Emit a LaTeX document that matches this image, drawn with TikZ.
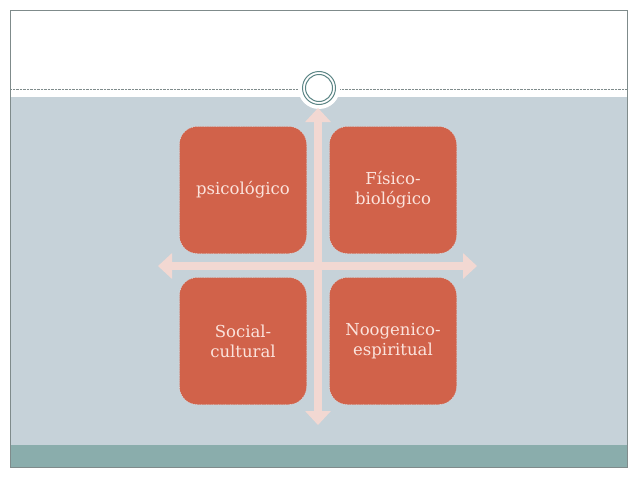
\documentclass[tikz,border=0pt]{standalone}
\usepackage{fontspec}
\setmainfont{DejaVu Serif}
\usetikzlibrary{arrows.meta}
\definecolor{boxred}{HTML}{D1624A}
\definecolor{boxtext}{HTML}{FBE3DC}
\definecolor{arrowpink}{HTML}{F2D8D2}
\definecolor{bandblue}{HTML}{C6D2D9}
\definecolor{bandteal}{HTML}{8AADAC}
\definecolor{framegray}{HTML}{7F8B8B}
\definecolor{ringteal}{HTML}{5B8585}
\begin{document}
\begin{tikzpicture}
            [x=1pt,y=-1pt,
             box/.style ={draw=white,dotted,fill=boxred,rounded corners=18pt,minimum width=127pt,minimum height=127pt,
                          text=boxtext,align=center,font=\fontsize{16.5}{20}\selectfont},
             twoway/.style ={arrowpink,line width=8pt,{Triangle[width=25pt,length=14pt]}-{Triangle[width=25pt,length=14pt]}}]
            \useasboundingbox (0,0) rectangle (638,479);
            \fill[bandblue] (10,97) rectangle (627,445);
            \fill[bandteal] (10,445) rectangle (627,467);
            \draw[framegray,densely dotted] (10,89) -- (627,89);
            \draw[framegray,line width=1pt] (10,10) rectangle (627,467);
            \fill[white] (319,88) circle (21);
            \draw[ringteal,line width=1pt] (319,88) circle (16.5) (319,88) circle (13.5);
            \coordinate (left) at (158,266);
            \coordinate (right) at (477,266);
            \coordinate (top) at (318,108);
            \coordinate (bottom) at (318,425);
            \draw[twoway] (left) to (right);
            \draw[twoway] (top) to (bottom);
            \node[box] (psico) at (243,190){psicológico};
            \node[box] (fisico) at (393,190){Físico-\\biológico};
            \node[box] (social) at (243,341){Social-\\cultural};
            \node[box] (noog) at (393,341){Noogenico-\\espiritual};
        \end{tikzpicture}
\end{document}
